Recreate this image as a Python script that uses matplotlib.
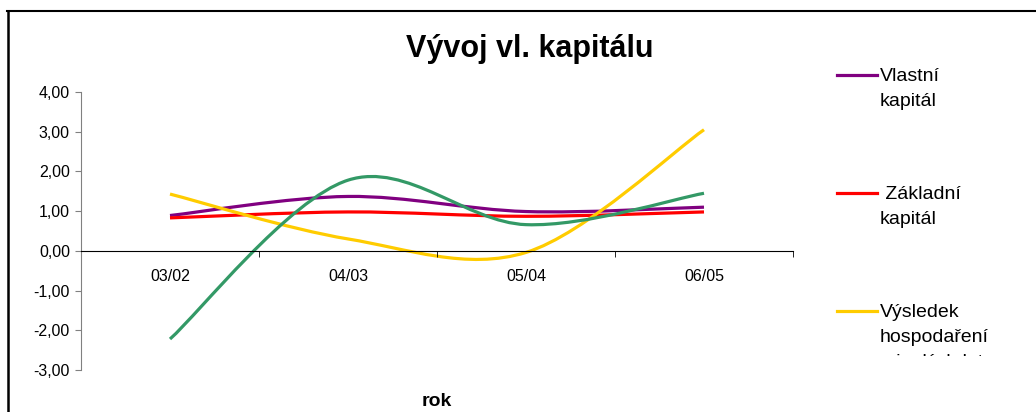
import matplotlib
matplotlib.use("Agg")
import matplotlib.pyplot as plt
from matplotlib.path import Path
from matplotlib.patches import PathPatch
from matplotlib.lines import Line2D
from matplotlib.transforms import Bbox, TransformedBbox

plt.rcParams['font.family'] = ['Liberation Sans', 'DejaVu Sans']

# roky a hodnoty indexů
roky = ["03/02", "04/03", "05/04", "06/05"]
vlastni_kapital = [0.89, 1.37, 0.99, 1.10]
zakladni_kapital = [0.83, 0.98, 0.87, 0.98]
vh_minula_leta = [1.43, 0.30, -0.04, 3.05]
vh_bezne = [-2.22, 1.78, 0.66, 1.45]

nazvy = ["Vlastní\nkapitál", " Základní\nkapitál",
         "Výsledek\nhospodaření\nminulých let", "Výsledek\nhospodaření\nběžného období"]
barvy = ["#800080", "#FF0000", "#FFCC00", "#339966"]
yticks = [-3, -2, -1, 0, 1, 2, 3, 4]


def smooth_path(xs, ys):
    # vyhlazená čára jako Bezierovy křivky přes body (Catmull-Rom)
    pts = list(zip(xs, ys))
    n = len(pts)
    verts = [pts[0]]
    codes = [Path.MOVETO]
    for i in range(n - 1):
        p0 = pts[max(i - 1, 0)]
        p1 = pts[i]
        p2 = pts[i + 1]
        p3 = pts[min(i + 2, n - 1)]
        c1 = (p1[0] + (p2[0] - p0[0]) / 6, p1[1] + (p2[1] - p0[1]) / 6)
        c2 = (p2[0] - (p3[0] - p1[0]) / 6, p2[1] - (p3[1] - p1[1]) / 6)
        verts += [c1, c2, p2]
        codes += [Path.CURVE4] * 3
    return Path(verts, codes)


W, H = 1036, 412
fig = plt.figure(figsize=(W / 100, H / 100), dpi=100)
ax = fig.add_axes([81 / W, (H - 370) / H, (793 - 81) / W, (370 - 92) / H])

x = list(range(1, len(roky) + 1))
serie = [vlastni_kapital, zakladni_kapital, vh_minula_leta, vh_bezne]
for ys, c in zip(serie, barvy):
    ax.add_patch(PathPatch(smooth_path(x, ys), fill=False, edgecolor=c,
                           lw=2.3, capstyle='butt', joinstyle='round'))

ax.set_xlim(0.5, len(roky) + 0.5)
ax.set_ylim(-3, 4)

ax.spines['top'].set_visible(False)
ax.spines['right'].set_visible(False)
ax.spines['left'].set_color('#808080')
ax.spines['bottom'].set_position(('data', 0))
ax.spines['bottom'].set_color('black')

ax.set_yticks(yticks)
ax.set_yticklabels([f"{v:.2f}".replace('.', ',') for v in yticks])
ax.tick_params(axis='y', direction='out', length=4, color='#808080',
               labelsize=11.5, pad=4)

ax.set_xticks(x)
ax.set_xticklabels(roky)
ax.set_xticks([i + 0.5 for i in x], minor=True)
ax.tick_params(axis='x', which='major', length=0, labelsize=11.5, pad=13)
ax.tick_params(axis='x', which='minor', direction='out', length=4, color='black')

fig.text(530 / W, 1 - 49 / H, "Vývoj vl. kapitálu", fontsize=22,
         fontweight='bold', ha='center', va='center')
fig.text(437 / W, 1 - 401 / H, "rok", fontsize=14, fontweight='bold',
         ha='center', va='center')

# legenda vpravo, spodní část je oříznutá rámečkem
clip = TransformedBbox(Bbox.from_extents(0.75, 1 - 356 / H, 1.0, 1.0),
                       fig.transFigure)
for i, (nazev, c) in enumerate(zip(nazvy, barvy)):
    base = 81 + 118 * i
    mid = base - 6
    if mid > H:
        continue
    ln = Line2D([837 / W, 877 / W], [1 - mid / H, 1 - mid / H],
                color=c, lw=2.3, transform=fig.transFigure)
    fig.add_artist(ln)
    for k, radek in enumerate(nazev.split("\n")):
        t = fig.text(880 / W, 1 - (base + 25 * k) / H, radek, fontsize=14,
                     ha='left', va='baseline')
        t.set_clip_box(clip)
        t.set_clip_on(True)

# rámeček kolem grafu
fig.add_artist(Line2D([7 / W, 1.0], [1 - 11 / H, 1 - 11 / H],
                      color='black', lw=1.5, transform=fig.transFigure))
fig.add_artist(Line2D([7.5 / W, 7.5 / W], [0, 1 - 11 / H],
                      color='black', lw=1.8, transform=fig.transFigure))

fig.savefig("out.png", dpi=100)
